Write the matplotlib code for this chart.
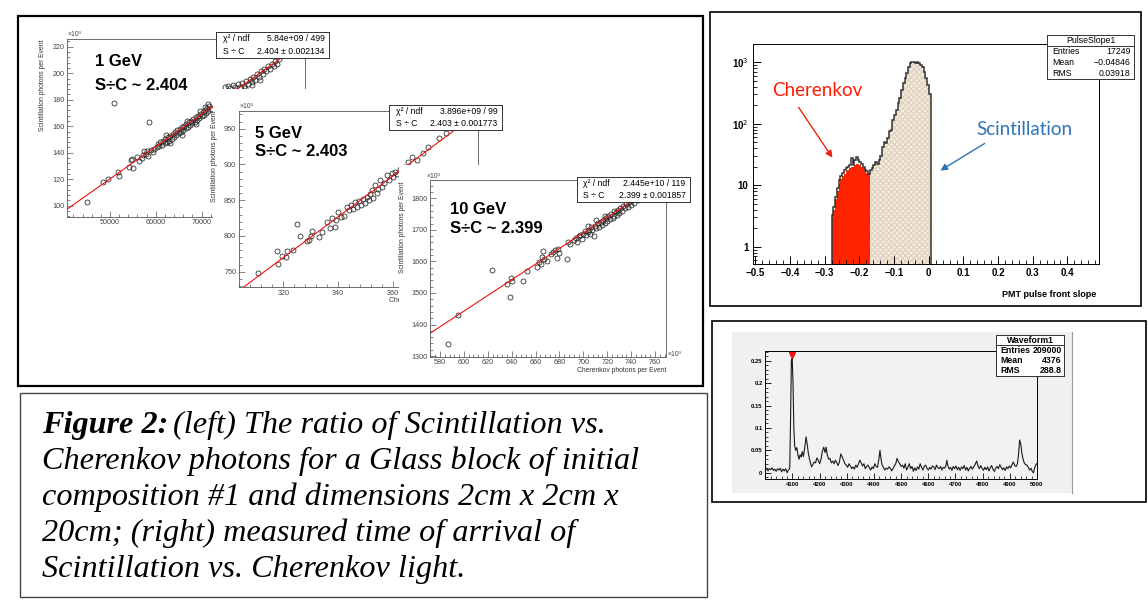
"""Composite figure: S/C ratio scatter plots, PMT pulse slope histogram and waveform."""
import matplotlib
matplotlib.use("Agg")
import matplotlib.pyplot as plt
import numpy as np
from matplotlib.patches import Rectangle, FancyArrowPatch
from matplotlib.ticker import AutoMinorLocator, LogLocator, NullFormatter

# ---------------- data ----------------
# 1 GeV: Cherenkov photons per event vs scintillation photons (x10^3)
gev1_pts = [
    (45000, 103.0), (48400, 117.9), (49600, 119.9), (50900, 177.7), (51800, 125.7),
    (52000, 122.7), (54200, 129.0), (54600, 134.5), (54750, 135.3), (54950, 128.2),
    (56000, 137.0), (56400, 133.8), (56900, 135.8), (57200, 138.6), (57500, 141.4),
    (57800, 139.2), (58100, 141.0), (58400, 137.8), (58600, 163.2), (59000, 142.1),
    (59300, 140.4), (59700, 143.0),
    (60200, 144.0), (60500, 146.5), (60800, 144.8), (61000, 147.9), (61300, 146.0),
    (61600, 149.2), (61900, 147.1), (62100, 150.5), (62300, 153.5), (62400, 148.3),
    (62700, 151.6), (62900, 149.0), (63000, 147.5), (63200, 152.4), (63500, 150.2),
    (63700, 154.0), (64000, 152.1), (64200, 155.3), (64500, 153.0), (64700, 156.8),
    (65000, 154.6), (65200, 158.1), (65500, 156.0), (65700, 159.4), (65800, 153.0),
    (66000, 157.2), (66200, 160.5), (66500, 158.4), (66700, 161.9), (66800, 164.0),
    (67000, 159.6), (67200, 163.0), (67500, 161.1), (67700, 164.2), (68000, 162.3),
    (68200, 165.6), (68500, 163.5), (68700, 166.9), (68800, 161.5), (69000, 164.8),
    (69200, 168.0), (69500, 166.1), (69600, 171.5), (69700, 169.3), (70000, 167.4),
    (70200, 170.6), (70500, 168.8), (70700, 171.9), (70800, 174.5), (71000, 170.1),
    (71200, 173.4), (71300, 176.5), (71500, 171.6), (71700, 175.0), (72000, 173.2),
    (75100, 189.8), (75800, 190.2), (76300, 188.9), (76900, 190.8), (77400, 189.6),
    (77600, 187.6), (77900, 191.9), (78300, 189.4), (78800, 192.6), (79200, 190.5),
    (79400, 188.8), (79700, 194.2), (80100, 192.0), (80500, 195.8), (80900, 193.4),
    (81000, 191.0), (81300, 197.5), (81700, 195.1), (82100, 199.6), (82500, 197.0),
    (82700, 195.0), (82900, 201.3), (83300, 199.2), (83700, 203.4), (84100, 201.5),
    (84500, 205.6), (84900, 203.3), (85300, 207.2), (85700, 205.4), (86100, 208.9),
    (86500, 207.0), (87000, 210.8),
]
gev1_fit = (-1.8, 2.441e-3)          # intercept, slope of the red line

# 5 GeV (both axes x10^3)
gev5_pts = [
    (310.9, 748.6), (317.6, 779.0), (318.2, 760.8), (319.4, 772.0), (320.9, 771.0),
    (321.2, 779.4), (323.4, 780.4), (325.1, 816.7), (326.1, 800.0), (328.7, 793.0),
    (329.3, 795.0), (330.0, 800.4), (330.6, 807.4), (333.1, 799.0), (334.2, 806.0),
    (336.0, 819.0), (337.0, 810.7), (337.6, 824.7), (338.8, 812.0), (339.3, 822.0),
    (340.0, 834.0), (341.0, 826.0), (342.1, 828.0), (343.1, 841.0), (344.0, 836.0),
    (344.8, 843.0), (345.5, 838.0), (346.0, 847.0), (346.8, 840.0), (347.5, 849.0),
    (348.2, 844.0), (349.0, 852.0), (349.6, 846.0), (350.3, 855.0), (351.0, 850.0),
    (351.5, 858.0), (352.2, 864.3), (352.8, 853.0), (353.4, 871.3), (354.0, 860.0),
    (354.6, 866.0), (355.2, 878.3), (355.8, 869.0), (356.5, 874.0), (357.6, 885.3),
    (358.3, 878.0), (359.4, 888.5), (360.0, 882.0), (360.6, 890.0), (361.5, 886.0),
    (362.5, 893.0), (364.0, 897.0), (365.2, 903.0), (366.7, 910.9), (368.5, 906.2),
    (370.9, 916.5), (372.7, 924.0), (376.7, 937.4), (379.2, 944.4),
]
gev5_fit = (-146.1, 2.862)

# 10 GeV (both axes x10^3)
gev10_pts = [
    (586.9, 1338), (595.3, 1429), (623.3, 1572.6), (636.3, 1528), (638.6, 1486),
    (639.2, 1548), (640.0, 1538.7), (649.2, 1537.8), (653.1, 1570.4), (660.9, 1583),
    (662.9, 1599), (664.3, 1590.7), (665.1, 1613), (666.0, 1634), (667.1, 1606.6),
    (669.9, 1601), (673.0, 1623), (674.9, 1630.7), (676.3, 1636), (677.7, 1609.7),
    (678.6, 1638), (679.5, 1627), (686.3, 1606.6), (687.4, 1662.4), (688.5, 1655),
    (692, 1668), (693.5, 1675), (695, 1662), (696, 1680), (697.5, 1684), (698.5, 1672),
    (700, 1688), (701, 1697), (702, 1683), (703.5, 1693), (704, 1712), (704.5, 1701),
    (705.5, 1688), (706.5, 1710), (707.5, 1699), (708.5, 1681), (709.5, 1713),
    (711, 1706), (711, 1730), (712, 1721), (713, 1710), (714.5, 1726), (715.5, 1716),
    (716.5, 1730), (718, 1722), (718, 1745), (719, 1737), (720, 1728), (721, 1745),
    (722, 1733), (723.5, 1750), (724.5, 1738), (725.5, 1744), (726, 1760), (727, 1756),
    (728, 1748), (729, 1762), (730, 1754), (731, 1769), (732.5, 1760), (733.5, 1775),
    (735, 1768), (736, 1782), (737, 1773), (738.5, 1788), (739.5, 1780), (741, 1794),
    (742, 1786), (744, 1800), (746, 1795), (748, 1806), (750, 1802),
]
gev10_fit = (-46.1, 2.481)

# PMT pulse front slope histogram (bins of 0.005 starting at -0.28)
slope_lo, slope_w = -0.28, 0.005
slope_total = [3.3, 4.5, 6.5, 9, 12, 14, 16, 18, 19, 20,
               21, 28, 21, 26, 29, 26, 24, 22, 20, 18, 17, 15.5,
               18, 19, 21, 24, 22, 26, 30, 42, 51, 48,
               58, 75, 80, 116, 139, 167, 215, 262, 356, 457,
               552, 670, 850, 980, 1000, 1000, 990, 1000, 960, 900,
               830, 700, 560, 420, 300]
slope_cherenkov = [3, 4, 6, 8, 10.5, 12.5, 14, 15.5, 17, 18,
                   19, 20, 20, 21, 22, 22, 21, 20, 19, 17, 16, 15]

# PMT waveform
wf_time = [4000, 4005, 4010, 4015, 4020, 4025, 4030, 4035, 4040, 4045, 4050, 4055,
           4060, 4065, 4070, 4075, 4080, 4085, 4090, 4093, 4096, 4099, 4102, 4105,
           4108, 4112, 4116, 4120, 4124, 4128, 4132, 4136, 4140, 4145, 4150, 4154,
           4158, 4162, 4166, 4170, 4175, 4180, 4185, 4190, 4195, 4200, 4205, 4210,
           4215, 4220, 4224, 4228, 4233, 4238, 4243, 4248, 4253, 4258, 4263, 4268,
           4273, 4278, 4283, 4288, 4293, 4298, 4303, 4308, 4313, 4318, 4323, 4328,
           4333, 4338, 4343, 4348, 4353, 4358, 4363, 4368, 4373, 4378, 4383, 4388,
           4393, 4398, 4403, 4408, 4413, 4418, 4422, 4426, 4430, 4435, 4440, 4445,
           4450, 4455, 4460, 4465, 4470, 4475, 4480, 4485, 4490, 4495, 4500, 4505,
           4510, 4515, 4520, 4525, 4530, 4535, 4540, 4545, 4550, 4555, 4560, 4565,
           4570, 4575, 4580, 4585, 4590, 4595, 4600, 4605, 4610, 4615, 4620, 4625,
           4630, 4635, 4640, 4645, 4650, 4655, 4660, 4665, 4668, 4672, 4677, 4682,
           4687, 4692, 4697, 4702, 4707, 4712, 4717, 4722, 4727, 4732, 4737, 4742,
           4747, 4752, 4757, 4762, 4767, 4772, 4778, 4783, 4788, 4793, 4798, 4803,
           4808, 4813, 4818, 4823, 4828, 4833, 4838, 4843, 4848, 4853, 4858, 4863,
           4868, 4873, 4878, 4883, 4888, 4893, 4898, 4903, 4908, 4913, 4918, 4923,
           4928, 4932, 4936, 4940, 4944, 4948, 4953, 4958, 4963, 4968, 4973, 4978,
           4983, 4987, 4991, 4995, 4999]
wf_amp = [0.006, 0.010, 0.004, 0.009, 0.007, 0.011, 0.005, 0.008, 0.003, 0.009, 0.006, 0.010,
          0.002, 0.008, 0.004, 0.009, 0.000, 0.006, 0.010, 0.120, 0.250, 0.255, 0.200, 0.100,
          0.060, 0.050, 0.056, 0.040, 0.030, 0.040, 0.035, 0.047, 0.036, 0.055, 0.080, 0.065,
          0.045, 0.032, 0.022, 0.013, 0.018, 0.024, 0.022, 0.033, 0.028, 0.020, 0.030, 0.048,
          0.057, 0.045, 0.057, 0.040, 0.030, 0.032, 0.022, 0.026, 0.020, 0.028, 0.022, 0.016,
          0.025, 0.042, 0.035, 0.028, 0.020, 0.017, 0.012, 0.020, 0.015, 0.009, 0.013, 0.008,
          0.017, 0.012, 0.020, 0.028, 0.022, 0.015, 0.020, 0.009, 0.014, 0.017, 0.011, 0.006,
          0.013, 0.009, 0.020, 0.014, 0.012, 0.030, 0.050, 0.030, 0.017, 0.012, 0.006, 0.010,
          0.008, 0.013, 0.010, 0.004, 0.009, 0.015, 0.020, 0.032, 0.024, 0.020, 0.014, 0.017,
          0.010, 0.020, 0.006, 0.012, 0.020, 0.009, 0.014, 0.003, 0.011, 0.005, 0.013, 0.008,
          0.020, 0.012, 0.006, 0.014, 0.017, 0.010, 0.006, 0.012, 0.008, 0.015, 0.013, 0.007,
          0.017, 0.011, 0.009, 0.014, 0.006, 0.012, 0.010, 0.016, 0.028, 0.015, 0.008, 0.012,
          0.005, 0.014, 0.009, 0.015, 0.007, 0.012, 0.005, 0.013, 0.009, 0.016, 0.006, 0.012,
          0.004, 0.010, 0.014, 0.008, 0.013, 0.018, 0.026, 0.015, 0.009, 0.016, 0.010, 0.005,
          0.012, 0.007, 0.013, 0.004, 0.011, 0.016, 0.008, 0.003, 0.010, 0.014, 0.009, 0.018,
          0.012, 0.007, 0.011, 0.005, 0.013, 0.009, 0.015, 0.011, 0.018, 0.024, 0.016, 0.014,
          0.020, 0.040, 0.073, 0.065, 0.045, 0.032, 0.022, 0.018, 0.017, 0.012, 0.006, 0.010,
          0.002, 0.000, 0.010, 0.017, 0.020]
wf_peak = (4097, 0.262)

caption_lines = [
    "(left) The ratio of Scintillation vs.",
    "Cherenkov photons for a Glass block of initial",
    "composition #1 and dimensions 2cm x 2cm x",
    "20cm; (right) measured time of arrival of",
    "Scintillation vs. Cherenkov light.",
]

# ---------------- layout helpers (pixel coordinates, y down) ----------------
W, H = 1148, 605
SANS = "Liberation Sans"
SERIF = "Liberation Serif"
fig = plt.figure(figsize=(W / 100, H / 100), dpi=100)
fig.patch.set_facecolor("white")


def px_axes(x0, y0, x1, y1, z=1):
    ax = fig.add_axes([x0 / W, 1 - y1 / H, (x1 - x0) / W, (y1 - y0) / H])
    ax.set_zorder(z)
    return ax


def blank(x0, y0, x1, y1, z, color="white"):
    ax = px_axes(x0, y0, x1, y1, z)
    ax.set_facecolor(color)
    ax.set_xticks([])
    ax.set_yticks([])
    for s in ax.spines.values():
        s.set_visible(False)
    return ax


def frame(x0, y0, x1, y1, color="black", lw=1.2):
    fig.patches.append(Rectangle((x0 / W, 1 - y1 / H), (x1 - x0) / W, (y1 - y0) / H,
                                 transform=fig.transFigure, fill=False,
                                 edgecolor=color, linewidth=lw, zorder=20))


def stat_box(x0, y0, x1, y1, rows, z, title=None, fs=6.2, weight="normal"):
    ax = px_axes(x0, y0, x1, y1, z)
    ax.set_xticks([])
    ax.set_yticks([])
    ax.set_xlim(0, 1)
    ax.set_ylim(0, 1)
    for s in ax.spines.values():
        s.set_linewidth(0.7)
        s.set_color("#333333")
    n = len(rows) + (1 if title else 0)
    k = 0
    if title:
        ax.text(0.5, 1 - 0.5 / n, title, ha="center", va="center", fontsize=fs,
                family=SANS, weight=weight)
        ax.axhline(1 - 1 / n, color="#333333", lw=0.7)
        k = 1
    for i, (lab, val) in enumerate(rows):
        yc = 1 - (i + k + 0.5) / n
        ax.text(0.06, yc, lab, ha="left", va="center", fontsize=fs, family=SANS, weight=weight)
        ax.text(0.96, yc, val, ha="right", va="center", fontsize=fs, family=SANS, weight=weight)
    return ax


def root_scatter(box, xlim, ylim, xticks, xlabels, yticks, pts, fit, z):
    ax = px_axes(*box, z=z)
    ax.set_facecolor("white")
    ax.set_xlim(*xlim)
    ax.set_ylim(*ylim)
    ax.set_xticks(xticks, xlabels)
    ax.set_yticks(yticks, [f"{t:g}" for t in yticks])
    ax.xaxis.set_minor_locator(AutoMinorLocator(5))
    ax.yaxis.set_minor_locator(AutoMinorLocator(5))
    ax.tick_params(which="both", direction="in", top=False, right=False,
                   labelsize=5.2, labelcolor="#444444", color="#555555", pad=2)
    ax.tick_params(which="major", length=4, width=0.5)
    ax.tick_params(which="minor", length=2, width=0.5)
    for lab in ax.get_xticklabels() + ax.get_yticklabels():
        lab.set_family(SANS)
    for s in ax.spines.values():
        s.set_linewidth(0.6)
        s.set_color("#555555")
    cx = np.array([p[0] for p in pts])
    cy = np.array([p[1] for p in pts])
    ax.plot(cx, cy, "o", ms=3.6, mfc="none", mec="#222222", mew=0.55)
    xs = np.array(xlim)
    ax.plot(xs, fit[0] + fit[1] * xs, color="#ee1111", lw=0.8)
    return ax


def label_px(ax, x, y, s, **kw):
    kw.setdefault("family", SANS)
    ax.annotate(s, (x, H - y), xycoords="figure pixels", annotation_clip=False, **kw)


def fig_text(x, y, s, **kw):
    return fig.text(x / W, 1 - y / H, s, **kw)


def root_labels(ax, energy, ratio, tx, ty1, ty2, ylab_xy, x10_xy, xlab_xy):
    label_px(ax, tx, ty1, energy, ha="left", va="center", fontsize=12, weight="bold")
    label_px(ax, tx, ty2, ratio, ha="left", va="center", fontsize=12, weight="bold")
    label_px(ax, ylab_xy[0], ylab_xy[1], "Scintillation photons per Event", rotation=90,
             ha="center", va="top", fontsize=4.9, color="#333333")
    label_px(ax, x10_xy[0], x10_xy[1], "×10³", ha="left", va="center", fontsize=4.9,
             color="#444444")
    label_px(ax, xlab_xy[0], xlab_xy[1], "Cherenkov photons per Event", ha="right",
             va="center", fontsize=4.9, color="#333333")


# ---------------- left block: three overlapping ROOT canvases ----------------
ax1 = root_scatter((67.3, 39.3, 305, 216.7), (40677, 92577), (91.7, 225.6),
                   [50000, 60000, 70000, 80000, 90000], ["50000", "60000", "70000", "", ""],
                   [100, 120, 140, 160, 180, 200, 220], gev1_pts, gev1_fit, z=2)
root_labels(ax1, "1 GeV", "S÷C ~ 2.404", 95, 62, 85, (42.7, 40), (68, 35), (306, 227))
stat_box(216, 31.7, 329, 57.7, [("χ² / ndf", "5.84e+09 / 499"), ("S ÷ C", "2.404 ± 0.002134")], z=2.5)

blank(212.5, 89, 515, 312, z=3)
ax2 = root_scatter((239, 110.7, 478, 287.3), (303.9, 390.8), (728.2, 975.2),
                   [320, 340, 360, 380], ["320", "340", "360", ""],
                   [750, 800, 850, 900, 950], gev5_pts, gev5_fit, z=4)
root_labels(ax2, "5 GeV", "S÷C ~ 2.403", 255, 133.3, 151.7, (215, 111), (240, 106), (478, 300))
stat_box(389.3, 105, 502, 130, [("χ² / ndf", "3.896e+09 / 99"), ("S ÷ C", "2.403 ± 0.001773")], z=4.5)

blank(399, 165, 701, 385, z=5)
ax3 = root_scatter((430, 180, 666, 356.7), (571.6, 769.2), (1298, 1858),
                   [580, 600, 620, 640, 660, 680, 700, 720, 740, 760],
                   ["580", "600", "620", "640", "660", "680", "700", "720", "740", "760"],
                   [1300, 1400, 1500, 1600, 1700, 1800], gev10_pts, gev10_fit, z=6)
root_labels(ax3, "10 GeV", "S÷C ~ 2.399", 450, 210, 228.3, (402.5, 182), (427, 176), (666, 371))
label_px(ax3, 668, 355, "×10³", ha="left", va="center", fontsize=4.9, color="#444444")
stat_box(576.7, 177.3, 690, 201.7, [("χ² / ndf", "2.445e+10 / 119"), ("S ÷ C", "2.399 ± 0.001857")], z=6.5)

frame(18, 16, 703, 386, lw=1.6)

# ---------------- caption ----------------
frame(20, 393, 707, 597, color="#444444", lw=1.0)
CAP_FS = 23.2
renderer = fig.canvas.get_renderer()
t_bold = fig_text(42, 425, "Figure 2:", family=SERIF, style="italic", weight="bold",
                  fontsize=CAP_FS, va="center", ha="left")
bb = t_bold.get_window_extent(renderer)
fig.text((bb.x1 + 5) / W, 1 - 425 / H, caption_lines[0], family=SERIF, style="italic",
         fontsize=CAP_FS, va="center", ha="left")
for i, line in enumerate(caption_lines[1:], start=1):
    fig_text(42, 425 + i * 36.2, line, family=SERIF, style="italic", fontsize=CAP_FS,
             va="center", ha="left")

# ---------------- top right: pulse slope histogram ----------------
frame(710, 12, 1141, 306, lw=1.2)
axh = px_axes(752.7, 44.3, 1099.3, 264.3, z=2)
edges = slope_lo + slope_w * np.arange(len(slope_total) + 1)
n_ch = len(slope_cherenkov)
axh.stairs(slope_total[n_ch:], edges[n_ch:], baseline=0.3, fill=True,
           facecolor="#f5ede3", edgecolor="#e2d2bf", hatch="xxxxxx", linewidth=0)
axh.stairs(slope_cherenkov, edges[:n_ch + 1], baseline=0.3, fill=True,
           facecolor="#ff2400", linewidth=0)
axh.stairs(slope_total, edges, baseline=0.3, color="#333333", linewidth=1.1)
axh.set_yscale("log")
axh.set_xlim(-0.508, 0.492)
axh.set_ylim(0.517, 1963)
axh.set_xticks([-0.5, -0.4, -0.3, -0.2, -0.1, 0, 0.1, 0.2, 0.3, 0.4],
               ["−0.5", "−0.4", "−0.3", "−0.2", "−0.1", "0", "0.1", "0.2", "0.3", "0.4"])
axh.xaxis.set_minor_locator(AutoMinorLocator(5))
axh.set_yticks([1, 10, 100, 1000], ["1", "10", "10$^{2}$", "10$^{3}$"])
axh.yaxis.set_minor_locator(LogLocator(base=10, subs=np.arange(2, 10)))
axh.yaxis.set_minor_formatter(NullFormatter())
axh.tick_params(which="both", direction="in", top=False, right=False, labelsize=7, pad=3)
axh.tick_params(which="major", length=6, width=0.7)
axh.tick_params(which="minor", length=3, width=0.6)
for lab in axh.get_xticklabels() + axh.get_yticklabels():
    lab.set_family(SANS)
    lab.set_weight("bold")
for s in axh.spines.values():
    s.set_linewidth(0.7)
fig_text(1096.7, 295, "PMT pulse front slope", ha="right", va="center", fontsize=6.5,
         family=SANS, weight="bold")
fig_text(771.7, 90, "Cherenkov", ha="left", va="center", fontsize=13.5, family="Lato",
         color="#ff1a00")
fig_text(976.7, 130, "Scintillation", ha="left", va="center", fontsize=13.5, family="Lato",
         color="#2e75b6")
fig.add_artist(FancyArrowPatch(
    (797 / W, 1 - 105 / H), (834 / W, 1 - 160 / H), transform=fig.transFigure,
    arrowstyle="-|>,head_length=4,head_width=2", color="#ee2211", lw=1.0, zorder=15))
fig.add_artist(FancyArrowPatch(
    (987 / W, 1 - 142 / H), (938 / W, 1 - 172 / H), transform=fig.transFigure,
    arrowstyle="-|>,head_length=4,head_width=2", color="#2e75b6", lw=1.0, zorder=15))
stat_box(1047.3, 35, 1134, 79, [("Entries", "17249"), ("Mean", "−0.04846"), ("RMS", "0.03918")],
         z=3, title="PulseSlope1", fs=6.3)

# ---------------- bottom right: waveform ----------------
frame(712, 321, 1146, 502, lw=1.2)
cv = blank(732, 331.7, 1072, 492.7, z=1, color="#f0f0f0")
cv.spines["right"].set_visible(True)
cv.spines["right"].set_color("#9a9a9a")
axw = px_axes(765.3, 350.7, 1037, 479.3, z=2)
axw.set_facecolor("#f2f2f2")
axw.plot(wf_time, wf_amp, color="#1a1a1a", lw=0.8)
axw.plot([wf_peak[0]], [wf_peak[1]], "v", color="#ee1111", ms=4)
axw.set_xlim(4000, 5000)
axw.set_ylim(-0.0147, 0.2723)
axw.set_xticks([4100, 4200, 4300, 4400, 4500, 4600, 4700, 4800, 4900, 5000])
axw.set_yticks([0, 0.05, 0.1, 0.15, 0.2, 0.25], ["0", "0.05", "0.1", "0.15", "0.2", "0.25"])
axw.xaxis.set_minor_locator(AutoMinorLocator(5))
axw.yaxis.set_minor_locator(AutoMinorLocator(5))
axw.tick_params(which="both", direction="in", top=False, right=False, labelsize=4.2, pad=2)
axw.tick_params(which="major", length=4, width=0.6)
axw.tick_params(which="minor", length=2, width=0.5)
for lab in axw.get_xticklabels() + axw.get_yticklabels():
    lab.set_family(SANS)
    lab.set_weight("bold")
for s in axw.spines.values():
    s.set_linewidth(0.7)
stat_box(996.3, 335, 1064.3, 376, [("Entries", "209000"), ("Mean", "4376"), ("RMS", "288.8")],
         z=3, title="Waveform1", fs=6.3, weight="bold")

fig.savefig("out.png", dpi=100)
